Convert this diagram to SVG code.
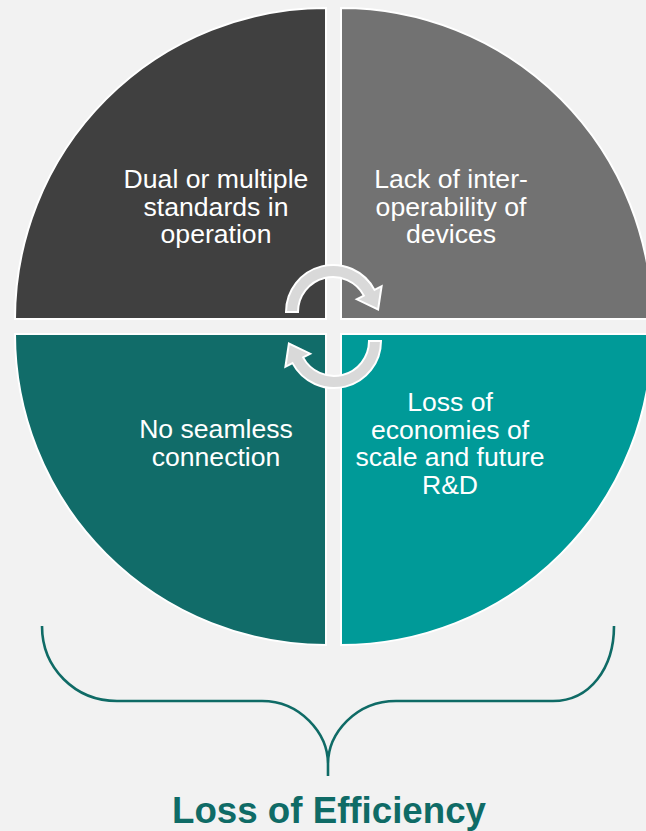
<svg xmlns="http://www.w3.org/2000/svg" width="646" height="831" viewBox="0 0 646 831">
  <style>
    .quad { stroke: #ffffff; stroke-width: 2; }
    .label { font-family: "Liberation Sans", Arial, sans-serif; font-size: 26.6px; fill: #ffffff; text-anchor: middle; }
    .cycle { fill: #d9d9d9; stroke: #ffffff; stroke-width: 2; stroke-linejoin: miter; }
    .brace { fill: none; stroke: #0f6b66; stroke-width: 2.6; }
    .title { font-family: "Liberation Sans", Arial, sans-serif; font-size: 36.7px; font-weight: bold; fill: #0f6b66; text-anchor: middle; }
  </style>
  <rect width="646" height="831" fill="#f2f2f2"/>

  <g id="quadrant-standards">
    <path class="quad" d="M326 319 L15 319 A311 311 0 0 1 326 8 Z" fill="#404040"/>
    <text class="label" x="216" y="188">Dual or multiple</text>
    <text class="label" x="216" y="215.5">standards in</text>
    <text class="label" x="216" y="243">operation</text>
  </g>

  <g id="quadrant-interoperability">
    <path class="quad" d="M341 319 L341 8 A311 311 0 0 1 652 319 Z" fill="#727272"/>
    <text class="label" x="451" y="188">Lack of inter-</text>
    <text class="label" x="451" y="215.5">operability of</text>
    <text class="label" x="451" y="243">devices</text>
  </g>

  <g id="quadrant-connection">
    <path class="quad" d="M326 334 L326 645 A311 311 0 0 1 15 334 Z" fill="#116c69"/>
    <text class="label" x="216" y="438">No seamless</text>
    <text class="label" x="216" y="465.5">connection</text>
  </g>

  <g id="quadrant-economies">
    <path class="quad" d="M341 334 L652 334 A311 311 0 0 1 341 645 Z" fill="#009a98"/>
    <text class="label" x="450" y="411">Loss of</text>
    <text class="label" x="450" y="438.5">economies of</text>
    <text class="label" x="450" y="466">scale and future</text>
    <text class="label" x="450" y="493.5">R&amp;D</text>
  </g>

  <g id="connectors">
    <!-- circular arrows in the centre -->
    <path id="cycle-top" class="cycle" d="M286 312 A47 47 0 0 1 374.5 289.9 L381.6 286.2 L378.1 309.5 L356.8 299.3 L363.9 295.6 A35 35 0 0 0 298 312 Z"/>
    <path id="cycle-bottom" class="cycle" transform="rotate(180 333.5 326.5)" d="M286 312 A47 47 0 0 1 374.5 289.9 L381.6 286.2 L378.1 309.5 L356.8 299.3 L363.9 295.6 A35 35 0 0 0 298 312 Z"/>
    <!-- brace under the circle -->
    <path id="brace" class="brace" d="M42 626 C42 668 75 701 117 701 L262 701 C300 701 328 733 328 764 L328 776 M328 764 C328 733 356 701 396 701 L553 701 C590 701 614 668 614 626"/>
  </g>

  <g id="summary">
    <text class="title" x="329" y="823">Loss of Efficiency</text>
  </g>
</svg>
